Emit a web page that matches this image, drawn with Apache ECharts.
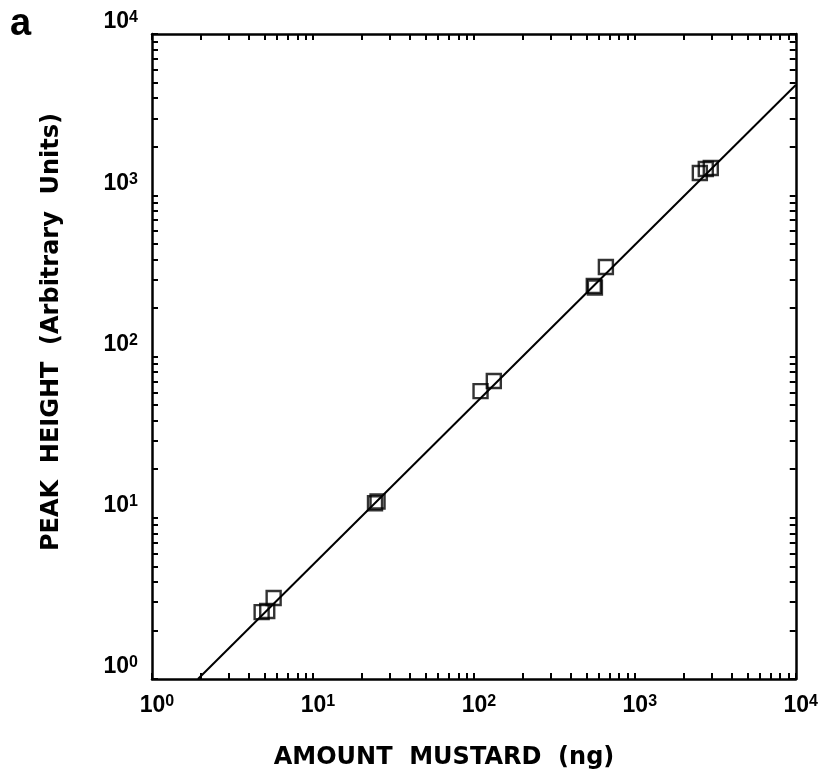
<!DOCTYPE html>
<html>
<head>
<meta charset="utf-8">
<script src="https://cdn.jsdelivr.net/npm/echarts@6/dist/echarts.min.js"></script>
<style>
html,body{margin:0;padding:0;background:#fff;}
#chart{width:821px;height:778px;}
</style>
</head>
<body>
<div id="chart"></div>
<script>
// ---- data ----
const amountNg = [4.8, 5.2, 5.7, 24.3, 25.2, 110, 133, 556, 565, 661, 2535, 2760, 2965];
const peakHeight = [2.60, 2.64, 3.18, 12.3, 12.6, 61, 70.5, 274, 268, 359, 1374, 1455, 1476];
const fitX = [1.93, 10000];
const fitY = [1, 4830];
const decadeTicks = [1, 10, 100, 1000, 10000];
const minorTicks = [1,2,3,4,5,6,7,8,9,10,20,30,40,50,60,70,80,90,100,200,300,400,500,600,700,800,900,1000,2000,3000,4000,5000,6000,7000,8000,9000,10000];
const xTitle = 'AMOUNT  MUSTARD  (ng)';
const yTitle = 'PEAK  HEIGHT  (Arbitrary  Units)';
const panelLabel = 'a';

const FONT = '"Liberation Sans", Arial, sans-serif';
const TFONT = '"DejaVu Sans", "Liberation Sans", sans-serif';

function expOf(v){ return Math.round(Math.log10(v)); }

const axisLineStyle = {color:'#000', width:2.5};
function baseAxis(extra){
  return Object.assign({
    type:'log', logBase:10, min:1, max:10000,
    splitLine:{show:false},
    axisLine:{show:true, onZero:false, lineStyle:axisLineStyle},
    axisTick:{show:true, inside:true, length:6, customValues:minorTicks, lineStyle:{color:'#000', width:2}},
    minorTick:{show:false}
  }, extra);
}

const labRich = {
  sp:{width:10, fontSize:22},
  b:{fontFamily:FONT, fontWeight:'bold', fontSize:23, color:'#000', lineHeight:24},
  s:{fontFamily:FONT, fontWeight:'bold', fontSize:16, color:'#000', verticalAlign:'top', lineHeight:16}
};

const chart = echarts.init(document.getElementById('chart'), null, {renderer:'canvas'});
chart.setOption({
  backgroundColor:'#fff',
  animation:false,
  grid:{left:152, right:25, top:34, bottom:99},
  xAxis:[
    baseAxis({position:'bottom',
      axisLabel:{show:true, customValues:decadeTicks, margin:15,
        formatter:v=>'{sp|}{b|10}{s|'+expOf(v)+'}', rich:labRich}}),
    baseAxis({position:'top', axisLabel:{show:false}})
  ],
  yAxis:[
    baseAxis({position:'left',
      axisLabel:{show:true, customValues:decadeTicks, margin:14, verticalAlign:'bottom',
        formatter:v=>'{b|10}{s|'+expOf(v)+'}', rich:labRich}}),
    baseAxis({position:'right', axisLabel:{show:false}})
  ],
  series:[
    {
      type:'line', xAxisIndex:0, yAxisIndex:0,
      data: fitX.map((x,i)=>[x, fitY[i]]),
      showSymbol:false, symbol:'none',
      lineStyle:{color:'#000', width:2},
      clip:true, z:2
    },
    {
      type:'scatter', xAxisIndex:0, yAxisIndex:0,
      data: amountNg.map((x,i)=>[x, peakHeight[i]]),
      symbol:'rect', symbolSize:14,
      itemStyle:{color:'rgba(0,0,0,0)', borderColor:'#000', borderWidth:2.4},
      z:3
    }
  ],
  graphic:[
    {type:'text', left:10, top:6, style:{text:panelLabel, font:'bold 38px '+FONT, fill:'#000'}},
    {type:'text', x:444, y:758, style:{text:xTitle, font:'bold 24px '+TFONT, fill:'#000', align:'center', verticalAlign:'middle'}},
    {type:'text', x:52, y:332, rotation:Math.PI/2, style:{text:yTitle, font:'bold 24px '+TFONT, fill:'#000', align:'center', verticalAlign:'middle'}}
  ]
});
</script>
</body>
</html>
